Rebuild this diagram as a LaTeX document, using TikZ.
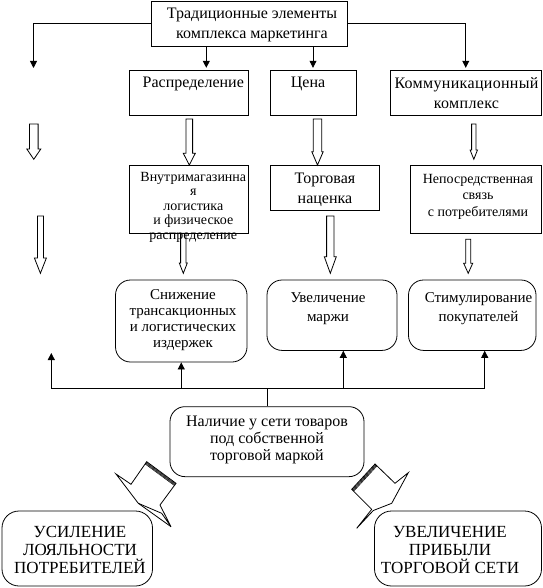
\documentclass[tikz,border=0pt]{standalone}
\usepackage{fontspec}
\setmainfont{Liberation Serif}
\usetikzlibrary{arrows.meta,calc}
\newcommand\fsz[2]{\fontsize{#1}{#2}\selectfont}
\newcommand\hollowdown[6]{%
  \draw[hol] ({#1-#5},#2) -- ({#1-#5},#3) -- ({#1-#6},#3) -- (#1,#4) -- ({#1+#6},#3) -- ({#1+#5},#3) -- ({#1+#5},#2) -- cycle;}
\begin{document}
\begin{tikzpicture}[x=1pt,y=-1pt,
  rect/.style={draw, line width=.8pt, inner sep=0pt},
  rbox/.style={rect, rounded corners=15pt},
  txt/.style={align=center, inner sep=0pt},
  arr/.style={-{Triangle[length=7pt,width=7pt]}, line width=.8pt},
  hol/.style={line width=.8pt, line join=miter},
  band/.style={line width=.45pt}]
\useasboundingbox (0,0) rectangle (542,588);

% boxes
\node[rect, minimum width=195.3pt, minimum height=45pt] (top) at (249.3,23.5) {};
\node[rect, minimum width=119pt, minimum height=44.3pt] (dist) at (188.8,92.85) {};
\node[rect, minimum width=86pt, minimum height=44.3pt] (price) at (313,92.85) {};
\node[rect, minimum width=151.5pt, minimum height=44.3pt] (comm) at (465.75,92.85) {};
\node[rect, minimum width=119pt, minimum height=67.6pt] (logi) at (188.8,199.5) {};
\node[rect, minimum width=109pt, minimum height=45pt] (markup) at (324.5,187.5) {};
\node[rect, minimum width=131.5pt, minimum height=68.3pt] (direct) at (475.75,199.15) {};
\node[rbox, minimum width=131.5pt, minimum height=82pt] (cost) at (181.25,321) {};
\node[rbox, minimum width=130pt, minimum height=70.4pt] (margin) at (332,315.2) {};
\node[rbox, minimum width=127.5pt, minimum height=70.4pt] (stim) at (472.25,315.2) {};
\node[rbox, minimum width=194pt, minimum height=70pt] (own) at (267,441.65) {};
\node[rbox, rounded corners=17pt, minimum width=150.5pt, minimum height=75pt] (loyal) at (77.25,548.5) {};
\node[rbox, rounded corners=17pt, minimum width=167pt, minimum height=75pt] (profit) at (458,548.5) {};

% top connectors
\coordinate (lt) at (33.5,68);
\coordinate (dx) at (206.3,0);
\draw[arr] (top.west) -| (lt);
\draw[arr, shorten >=2.5pt] (top.east) -| (comm.north);
\draw[arr, shorten >=2.5pt] (top.south -| dx) -- (dist.north -| dx);
\draw[arr, shorten >=2.5pt] (top.south -| price.north) -- (price.north);

% hollow arrows
\hollowdown{33.8}{124}{149}{159.3}{4.3}{7}
\hollowdown{189.3}{119}{153.3}{165}{3.3}{6}
\hollowdown{317.5}{119}{151.7}{165}{4.2}{5.7}
\hollowdown{473.8}{124}{150}{159.3}{2.2}{3.7}
\hollowdown{40.4}{216}{258}{273.3}{3}{6}
\hollowdown{183.3}{233.3}{263}{273.3}{2.7}{4}
\hollowdown{330.3}{216}{256.7}{273.3}{3.7}{6}
\hollowdown{468.2}{239.3}{263.3}{273.3}{2.5}{4.5}

% bottom bus
\coordinate (busL) at (51.3,388);
\coordinate (busR) at (484.7,388);
\coordinate (lb) at (51.3,353);
\coordinate (mx) at (343.3,0);
\draw[line width=.8pt] (busL) -- (busR);
\draw[line width=.8pt] (own.north) -- (own.north |- busL);
\draw[arr] (busL) -- (lb);
\draw[arr] (cost.south |- busL) -- (cost.south);
\draw[arr] (busL -| mx) -- (margin.south -| mx);
\draw[arr] (busR) -- (busR |- stim.south);

% fat arrows
\draw[hol] (146.7,461.7) -- (131,484.3) -- (116,474) -- (138.3,503.3) -- (161.7,513.3) -- (171,526.7) -- (160,505) -- (176,483.3) -- cycle;
\draw[hol] (138.3,503.3) -- (171,526.7);
\foreach \k in {0.7,1.4,2.1,2.8}
  \draw[band] ({146.7-0.593*\k},{461.7+0.805*\k}) -- ({176-0.593*\k},{483.3+0.805*\k});
\draw[hol] (375,464) -- (395,483.3) -- (408.3,472.7) -- (391.7,503.3) -- (373.3,510.5) -- (356.7,528.3) -- (371.7,509.3) -- (351.7,489.3) -- cycle;
\foreach \k in {0.7,1.4,2.1,2.8}
  \draw[band] ({375+0.736*\k},{464+0.677*\k}) -- ({351.7+0.736*\k},{489.3+0.677*\k});

% texts
\node[txt, font=\fsz{16}{19.5}] (ttop) at (252,25) {Традиционные элементы\\комплекса маркетинга};
\node[txt, font=\fsz{16}{19}] (tdist) at (193.3,84) {Распределение};
\node[txt, font=\fsz{16}{19}] (tprice) at (308,84) {Цена};
\node[txt, font=\fsz{16}{20}\addfontfeature{LetterSpace=2}] (tcomm) at (466.5,93.3) {Коммуникационный\\комплекс};
\node[txt, font=\fsz{14}{14.5}] (tlogi) at (193.3,207) {Внутримагазинна\\я\hspace*{12pt}\\логистика\\и физическое\\распределение};
\node[txt, font=\fsz{16}{19.3}] (tmarkup) at (325,189.7) {Торговая\\наценка};
\node[txt, font=\fsz{14}{16.7}] (tdirect) at (478,196.7) {Непосредственная\\связь\\с потребителями};
\node[txt, font=\fsz{15}{16}] (tcost) at (183,320) {Снижение\\трансакционных\\и логистических\\издержек};
\node[txt, font=\fsz{15}{19}] (tmargin) at (328,309) {Увеличение\\маржи};
\node[txt, font=\fsz{15}{19}] (tstim) at (478.5,309) {Стимулирование\\покупателей};
\node[txt, font=\fsz{16}{16.8}] (town) at (267,440) {Наличие у сети товаров\\под собственной\\торговой маркой};
\node[txt, font=\fsz{17}{18.3}] (tloyal) at (80,550) {УСИЛЕНИЕ\\ЛОЯЛЬНОСТИ\\ПОТРЕБИТЕЛЕЙ};
\node[txt, font=\fsz{17}{18.3}] (tprofit) at (450,550) {УВЕЛИЧЕНИЕ\\ПРИБЫЛИ\\ТОРГОВОЙ СЕТИ};
\end{tikzpicture}
\end{document}
